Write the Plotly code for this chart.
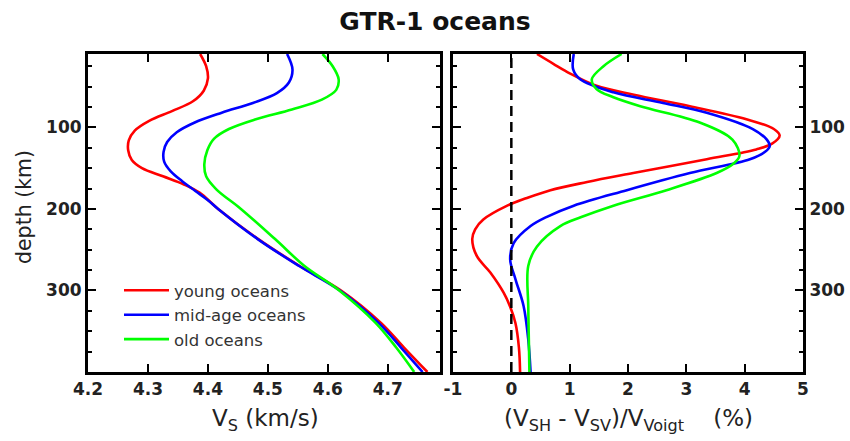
import plotly.graph_objects as go

# ---------------- data ----------------
series_names = ["young oceans", "mid-age oceans", "old oceans"]
series_colors = ["#ff0000", "#0000ff", "#00ff00"]

# Left panel: Vs (km/s) vs depth (km)
vs_young_depth = [10, 25, 40, 55, 68, 80, 92, 104, 116, 128, 140, 150, 160, 170, 180, 200, 237, 270, 300, 340, 370, 400]
vs_young = [4.387, 4.397, 4.400, 4.393, 4.375, 4.340, 4.302, 4.278, 4.268, 4.267, 4.273, 4.290, 4.325, 4.360, 4.386, 4.417, 4.484, 4.553, 4.622, 4.689, 4.727, 4.766]

vs_mid_depth = [10, 29, 45, 58, 70, 82, 94, 106, 118, 130, 142, 154, 166, 178, 190, 200, 237, 270, 300, 340, 370, 400]
vs_mid = [4.532, 4.541, 4.535, 4.515, 4.475, 4.423, 4.378, 4.348, 4.332, 4.326, 4.327, 4.338, 4.357, 4.379, 4.401, 4.417, 4.483, 4.552, 4.620, 4.685, 4.722, 4.758]

vs_old_depth = [10, 25, 41, 54, 66, 78, 90, 102, 114, 128, 145, 160, 176, 200, 237, 270, 300, 340, 370, 400]
vs_old = [4.591, 4.608, 4.618, 4.614, 4.590, 4.540, 4.480, 4.435, 4.410, 4.399, 4.394, 4.397, 4.414, 4.455, 4.512, 4.561, 4.619, 4.680, 4.714, 4.744]

# Right panel: (VSH - VSV)/VVoigt (%) vs depth (km)
an_young_depth = [10, 22, 34, 49, 60, 74, 90, 102, 110, 120, 127, 139, 156, 167, 177, 187, 196, 213, 225, 237, 258, 278, 303, 320, 340, 370, 400]
an_young = [0.44, 0.72, 1.01, 1.46, 2.10, 3.06, 4.03, 4.50, 4.60, 4.47, 4.20, 3.35, 2.09, 1.30, 0.67, 0.25, -0.07, -0.48, -0.62, -0.67, -0.59, -0.36, -0.13, -0.02, 0.07, 0.13, 0.15]

an_mid_depth = [10, 29, 41, 57, 70, 82, 102, 115, 123, 130, 139, 156, 177, 196, 210, 221, 242, 262, 286, 319, 360, 400]
an_mid = [1.07, 1.06, 1.18, 1.75, 2.60, 3.35, 4.14, 4.38, 4.43, 4.35, 4.09, 3.06, 1.98, 1.07, 0.60, 0.33, 0.04, -0.02, 0.07, 0.21, 0.29, 0.33]

an_old_depth = [10, 25, 41, 53, 63, 74, 94, 115, 135, 145, 156, 177, 196, 210, 221, 246, 270, 319, 360, 400]
an_old = [1.89, 1.58, 1.38, 1.46, 1.75, 2.21, 3.23, 3.79, 3.91, 3.80, 3.52, 2.66, 1.75, 1.20, 0.84, 0.44, 0.29, 0.29, 0.30, 0.31]

vs_tickvals = [4.2, 4.3, 4.4, 4.5, 4.6, 4.7]
vs_ticktext = ["4.2", "4.3", "4.4", "4.5", "4.6", "4.7"]
an_tickvals = [-1, 0, 1, 2, 3, 4, 5]
an_ticktext = ["-1", "0", "1", "2", "3", "4", "5"]
depth_tickvals = [100, 200, 300]
depth_ticktext = ["100", "200", "300"]
depth_range = [400, 10]
vs_range = [4.2, 4.787]
an_range = [-1, 5]
zero_line = 0

title_text = "GTR-1 oceans"
left_xtitle = "V<sub>S</sub> (km/s)"
right_xtitle = "(V<sub>SH</sub> - V<sub>SV</sub>)/V<sub>Voigt</sub>\u00a0\u00a0\u00a0\u00a0(%)"
ytitle = "depth (km)"

# ---------------- figure ----------------
W, H = 850, 441
FONT = "DejaVu Sans"

fig = go.Figure()

left = [(vs_young_depth, vs_young), (vs_mid_depth, vs_mid), (vs_old_depth, vs_old)]
right = [(an_young_depth, an_young), (an_mid_depth, an_mid), (an_old_depth, an_old)]

for (d, v), name, col in zip(left, series_names, series_colors):
    fig.add_trace(go.Scatter(x=v, y=d, mode="lines", name=name,
                             line=dict(color=col, width=2.6, shape="spline", smoothing=1.0),
                             xaxis="x", yaxis="y", showlegend=True))
for (d, v), name, col in zip(right, series_names, series_colors):
    fig.add_trace(go.Scatter(x=v, y=d, mode="lines", name=name,
                             line=dict(color=col, width=2.6, shape="spline", smoothing=1.0),
                             xaxis="x2", yaxis="y2", showlegend=False))

fig.add_shape(type="line", xref="x2", yref="y2 domain", x0=zero_line, x1=zero_line, y0=0, y1=1,
              line=dict(color="black", width=2.5, dash="10px,6px"))

ydom = [1 - 372 / H, 1 - 54 / H]
axis_common = dict(showline=True, linewidth=3, linecolor="black", mirror="allticks",
                   ticks="inside", ticklen=8, tickwidth=2, tickcolor="black",
                   showgrid=False, zeroline=False, automargin=False,
                   tickfont=dict(family=FONT, size=17, color="#222222", weight="bold"))
yminor = dict(dtick=25, ticks="inside", ticklen=4, tickwidth=1.5, tickcolor="black", showgrid=False)

fig.update_layout(
    template="none",
    width=W, height=H,
    margin=dict(l=0, r=0, t=0, b=0, autoexpand=False),
    paper_bgcolor="white", plot_bgcolor="white",
    showlegend=True,
    legend=dict(x=119 / W, y=1 - 273 / H, xanchor="left", yanchor="top",
                bgcolor="rgba(0,0,0,0)", borderwidth=0, tracegroupgap=0, itemwidth=45,
                font=dict(family=FONT, size=16.5, color="#333333")),
    xaxis=dict(domain=[88 / W, 440 / W], range=vs_range, tickvals=vs_tickvals,
               ticktext=vs_ticktext, anchor="y", **axis_common),
    yaxis=dict(domain=ydom, range=depth_range, tickvals=depth_tickvals,
               ticktext=depth_ticktext, anchor="x", minor=yminor, **axis_common),
    xaxis2=dict(domain=[453 / W, 803 / W], range=an_range, tickvals=an_tickvals,
                ticktext=an_ticktext, anchor="y2", **axis_common),
    yaxis2=dict(domain=ydom, range=depth_range, tickvals=depth_tickvals,
                ticktext=depth_ticktext, anchor="x2", side="right", minor=yminor, **axis_common),
    title=dict(text=title_text, x=435 / W, xanchor="center", y=1 - 21 / H, yanchor="middle",
               font=dict(family=FONT, size=25, color="#111111", weight="bold")),
)

fig.add_annotation(text=ytitle, x=24 / W, y=1 - 207 / H, xref="paper", yref="paper",
                   textangle=-90, showarrow=False, xanchor="center", yanchor="middle",
                   font=dict(family=FONT, size=20.5, color="#222222"))
fig.add_annotation(text=left_xtitle, x=265 / W, y=1 - 420 / H, xref="paper", yref="paper",
                   showarrow=False, xanchor="center", yanchor="middle",
                   font=dict(family=FONT, size=23, color="#222222"))
fig.add_annotation(text=right_xtitle, x=628 / W, y=1 - 420 / H, xref="paper", yref="paper",
                   showarrow=False, xanchor="center", yanchor="middle",
                   font=dict(family=FONT, size=23, color="#222222"))

fig.write_html("out.html", config={"displayModeBar": False},
               post_script="document.body.style.margin='0';document.body.style.overflow='hidden';")
